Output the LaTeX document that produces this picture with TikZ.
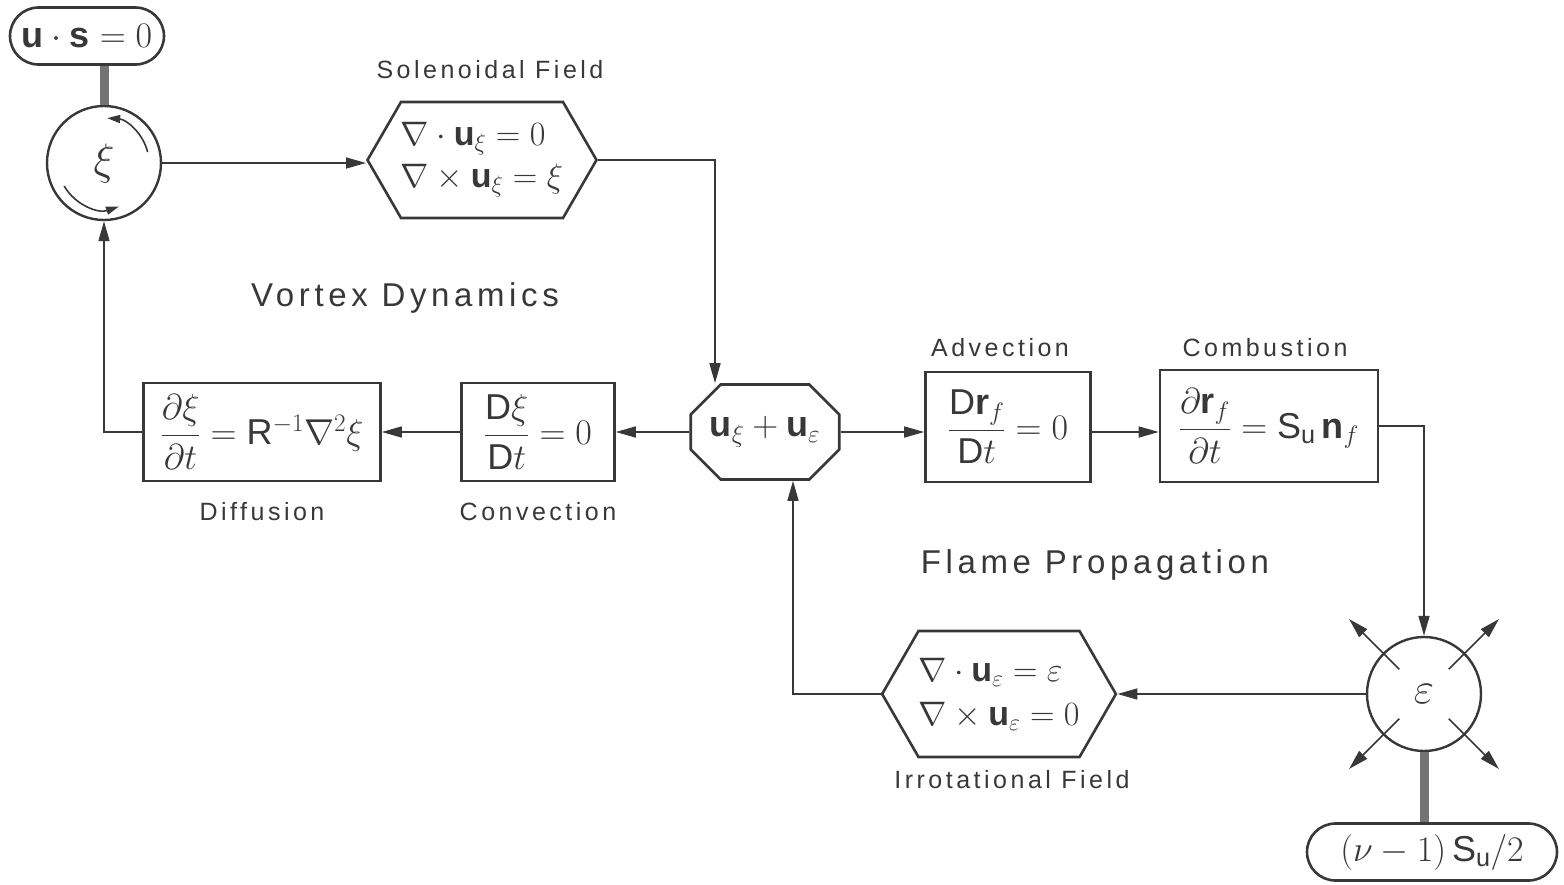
\RequirePackage{fix-cm}
\documentclass[tikz,border=0pt]{standalone}
\usepackage{amsmath}
\usepackage{fontspec}
\setmainfont{Liberation Sans}
\setsansfont{Liberation Sans}
\newfontfamily\lblfont[LetterSpace=14]{Liberation Sans}
\usetikzlibrary{arrows.meta}
\usetikzlibrary{shapes.misc,shapes.symbols}
\tikzset{>={Triangle[width=11pt,length=20pt]}}
\definecolor{ink}{gray}{0.22}

\begin{document}
\begin{tikzpicture}[x=1pt,y=-1pt,
    ink/.style={draw=ink,text=ink},
    eqbox/.style={ink,line width=2.6pt,inner sep=4pt,font=\fontsize{36}{42}\selectfont},
    hexbox/.style={eqbox,signal,signal to=west and east,signal pointer angle=120,align=left,
                   inner xsep=0pt,font=\fontsize{34}{40}\selectfont},
    capbox/.style={eqbox,rounded rectangle,minimum height=57pt},
    ring/.style={ink,circle,line width=2.4pt,minimum size=114pt,font=\fontsize{44}{48}\selectfont},
    tag/.style={text=ink,font=\lblfont\fontsize{25}{28}\selectfont},
    title/.style={text=ink,font=\lblfont\fontsize{33}{36}\selectfont},
    wire/.style={draw=ink,line width=1.6pt,->},
    stem/.style={draw=ink!70,line width=9pt}]
  \useasboundingbox (0,0) rectangle (1564,884);
  % Define variables
  \pgfmathsetmacro{\rin}{35}   % inner end of the spread arrows
  \pgfmathsetmacro{\rout}{106} % outer end of the spread arrows

  % Vortex loop
  \node[capbox,minimum width=162pt,inner ysep=15pt] (cond) at (87,36) {$\mathbf{u}\cdot\mathbf{s}=0$};
  \node[ring] (vort) at (104,163) {$\xi$};
  \node[hexbox,minimum height=116pt] (solen) at (482,160)
    {$\nabla\cdot\mathbf{u}_\xi=0$\\[2pt]$\nabla\times\mathbf{u}_\xi=\xi$};
  \node[tag] (solentag) at (490,70) {Solenoidal Field};
  \node[eqbox,chamfered rectangle,chamfered rectangle xsep=15pt,chamfered rectangle ysep=15pt,
        minimum width=144pt,minimum height=95pt] (vel) at (765,432)
    {$\mathbf{u}_\xi+\mathbf{u}_\varepsilon$};
  \node[eqbox,minimum width=153pt,minimum height=98pt] (conv) at (538,432)
    {$\dfrac{\mathsf{D}\xi}{\mathsf{D}t}=0$};
  \node[eqbox,minimum width=237pt,minimum height=98pt] (diff) at (262,432)
    {$\dfrac{\partial\xi}{\partial t}=\mathsf{R}^{-1}\nabla^2\xi$};
  \node[tag] (difftag) at (262,512) {Diffusion};
  \node[tag] (convtag) at (538,512) {Convection};
  \node[title] (vortex) at (405,298) {Vortex Dynamics};

  % Flame loop
  \node[eqbox,minimum width=165pt,minimum height=110pt] (adv) at (1008,427)
    {$\dfrac{\mathsf{D}\mathbf{r}_f}{\mathsf{D}t}=0$};
  \node[eqbox,minimum width=218pt,minimum height=112pt] (comb) at (1269,426)
    {$\dfrac{\partial\mathbf{r}_f}{\partial t}=\mathsf{S}_\mathsf{u}\,\mathbf{n}_f$};
  \node[tag] (advtag) at (1000,348) {Advection};
  \node[tag] (combtag) at (1265,348) {Combustion};
  \node[title] (flame) at (1095,565) {Flame Propagation};
  \node[ring] (expan) at (1424,694) {$\varepsilon$};
  \node[capbox,minimum width=258pt,inner ysep=9pt] (burn) at (1432,852) {$(\nu-1)\,\mathsf{S}_\mathsf{u}/2$};
  \node[hexbox,minimum height=126pt] (irrot) at (999,694)
    {$\nabla\cdot\mathbf{u}_\varepsilon=\varepsilon$\\[4pt]$\nabla\times\mathbf{u}_\varepsilon=0$};
  \node[tag] (irrottag) at (1012,780) {Irrotational Field};

  % Draw stems
  \draw[stem] (vort.north) -- (vort.north |- cond.south);
  \draw[stem] (expan.south) -- (expan.south |- burn.north);

  % Draw circulation inside the vortex
  \draw[draw=ink,line width=1.6pt,-{Triangle[width=8pt,length=13pt]}]
    ([shift={(-14:45)}]vort.center) arc[start angle=-14,end angle=-86,radius=45];
  \draw[draw=ink,line width=1.6pt,-{Triangle[width=8pt,length=13pt]}]
    ([shift={(150:46)}]vort.center) arc[start angle=150,end angle=71,radius=46];

  % Draw spreading arrows
  \foreach \a in {45,135,225,315} {
    \coordinate (in\a) at ([shift={(\a:\rin)}]expan.center);
    \coordinate (out\a) at ([shift={(\a:\rout)}]expan.center);
    \draw[wire] (in\a) -- (out\a); }

  % Draw connectors
  \draw[wire] (vort) -- (vort -| solen.west);
  \draw[wire] (solen.east) -| ([xshift=-50pt]vel.north);
  \draw[wire] (vel) -- (conv);
  \draw[wire] (conv) -- (diff);
  \draw[wire] (diff.west) -| (vort.south);
  \draw[wire] (vel.east) -- (vel.east -| adv.west);
  \draw[wire] (adv.east |- vel.east) -- (vel.east -| comb.west);
  \draw[wire] (comb.east) -| (expan.north);
  \draw[wire] (expan) -- (irrot);
  \draw[wire] (irrot.west) -| ([xshift=28pt]vel.south);
\end{tikzpicture}
\end{document}
